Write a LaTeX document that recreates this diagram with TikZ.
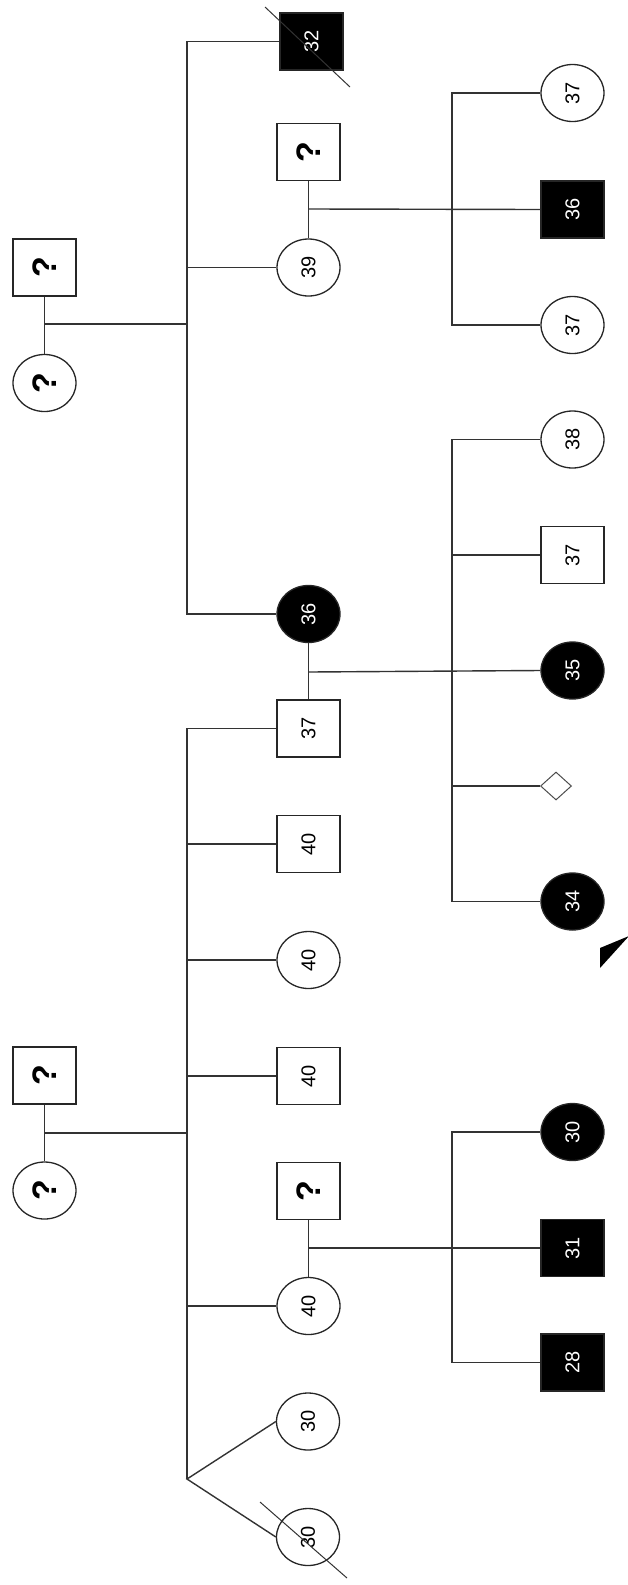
\documentclass[tikz,border=0pt]{standalone}
\usepackage{fontspec}
\setmainfont{Liberation Sans}
\usetikzlibrary{shapes.geometric}
\newcommand{\age}[1]{\rotatebox{90}{#1}}

\begin{document}
\begin{tikzpicture}[x=1pt,y=-1pt,
  male/.style={draw=black!85, rectangle, minimum width=63pt, minimum height=57pt,
    inner sep=0pt, line width=1.3pt, font=\fontsize{20}{20}\selectfont},
  female/.style={male, ellipse},
  hit/.style={fill=black, text=white},
  unknown/.style={font=\fontsize{34}{34}\selectfont\bfseries},
  nosex/.style={draw=black!70, diamond, minimum width=31pt, minimum height=28pt, inner sep=0pt, line width=1pt},
  link/.style={draw=black!80, line width=1.4pt}]
\useasboundingbox (0,0) rectangle (627,1585);

% generation I
\node[male, unknown] (gA) at (44.5,267.5) {\age{?}};
\node[female, unknown] (gB) at (44.5,383) {\age{?}};
\node[male, unknown] (gC) at (44.5,1075.5) {\age{?}};
\node[female, unknown] (gD) at (44.5,1190.5) {\age{?}};

% generation II
\node[male, hit] (b32) at (311.5,41.5) {\age{32}};
\node[male, unknown] (bS1) at (308.5,152) {\age{?}};
\node[female] (b39) at (308.5,267.5) {\age{39}};
\node[female, hit] (b36) at (308.5,614) {\age{36}};
\node[male] (b37) at (308.5,728.5) {\age{37}};
\node[male] (b40a) at (308.5,844) {\age{40}};
\node[female] (b40b) at (308.5,960) {\age{40}};
\node[male] (b40c) at (308.5,1076) {\age{40}};
\node[male, unknown] (bS2) at (308.5,1191) {\age{?}};
\node[female] (b40d) at (308.5,1306) {\age{40}};
\node[female] (t1) at (308,1421.5) {\age{30}};
\node[female] (t2) at (308,1537) {\age{30}};

% generation III
\node[female] (c37a) at (572.5,93) {\age{37}};
\node[male, hit] (c36) at (572.5,209.5) {\age{36}};
\node[female] (c37b) at (572.5,325) {\age{37}};
\node[female] (c38) at (572.5,439.5) {\age{38}};
\node[male] (c37) at (572.5,555) {\age{37}};
\node[female, hit] (c35) at (572.5,670.5) {\age{35}};
\node[nosex] (cD) at (556,786) {};
\node[female, hit] (c34) at (572.5,901.5) {\age{34}};
\node[female, hit] (c30) at (572.5,1132) {\age{30}};
\node[male, hit] (c31) at (572.5,1248) {\age{31}};
\node[male, hit] (c28) at (572.5,1362.5) {\age{28}};

\coordinate (s1) at (187,324);
\coordinate (s2) at (187,1133);
\coordinate (tw) at (187,1479);
\coordinate (s3) at (452,209);
\coordinate (s4) at (452,672);
\coordinate (s5) at (452,1248);

% first family
\draw[link] (gA) -- (gB);
\draw[link] (gA.south |- s1) -- (s1);
\draw[link] (b32.west) -| (s1) |- (b36.west);
\draw[link] (s1 |- b39.west) -- (b39.west);
\draw[link] (bS1) -- (b39);
\draw[link] (bS1.south |- s3) -- (c36.west);
\draw[link] (c37a.west) -| (s3) |- (c37b.west);

% second family
\draw[link] (gC) -- (gD);
\draw[link] (gC.south |- s2) -- (s2);
\draw[link] (b37.west) -| (tw);
\foreach \n in {b40a,b40b,b40c,b40d}
  \draw[link] (s2 |- \n.west) -- (\n.west);
\draw[link] (t1.west) -- (tw) -- (t2.west);

\draw[link] (b36) -- (b37);
\draw[link] (b36.south |- s4) -- (c35.west);
\draw[link] (c38.west) -| (s4) |- (c34.west);
\draw[link] (s4 |- c37.west) -- (c37.west);
\draw[link] (s4 |- cD.west) -- (cD.west);

\draw[link] (bS2) -- (b40d);
\draw[link] (bS2.south |- s5) -- (c31.west);
\draw[link] (c30.west) -| (s5) |- (c28.west);

% deceased
\draw[link, line width=1pt] ([shift={(-46.5,-34.5)}]b32.center) -- ([shift={(38.5,45.5)}]b32.center);
\draw[link, line width=1pt] ([shift={(-48,-35)}]t2.center) -- ([shift={(39,41)}]t2.center);

% proband
\fill (600,948) -- (600,968) -- (629,936) -- cycle;
\end{tikzpicture}
\end{document}
